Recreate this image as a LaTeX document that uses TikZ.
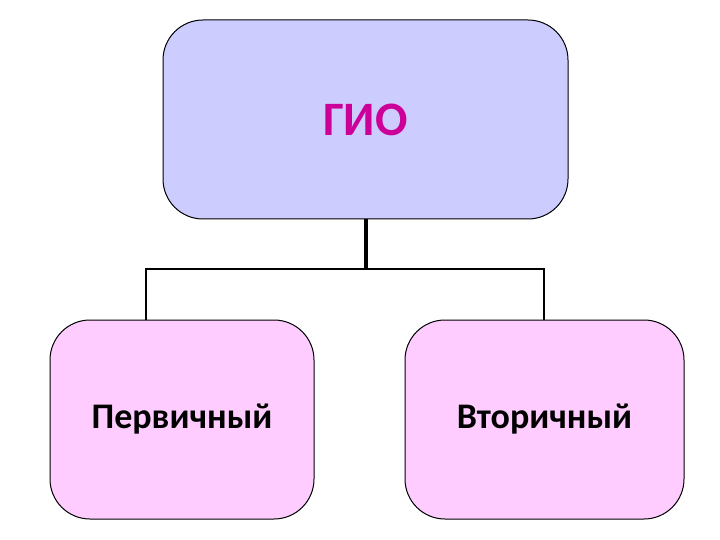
\documentclass[tikz,border=0pt]{standalone}
\usepackage{fontspec}
\setmainfont{Carlito}
\usetikzlibrary{calc}
\definecolor{topfill}{HTML}{CCCCFF}
\definecolor{botfill}{HTML}{FFCCFF}
\definecolor{titlecol}{HTML}{CC0099}
\tikzset{
  box/.style={draw=black, line width=1pt, rounded corners=40pt, inner sep=0pt},
  conn/.style={draw=black, line width=2pt},
}
\begin{document}
\begin{tikzpicture}[x=1pt,y=-1pt]
\useasboundingbox (0,0) rectangle (720,540);
\node[box, fill=topfill, minimum width=405pt, minimum height=199pt,
      font=\fontsize{48}{54}\selectfont\bfseries, text=titlecol] (top) at (365.5,119.5) {ГИО};
\node[box, fill=botfill, minimum width=264pt, minimum height=199pt,
      font=\fontsize{36}{42}\selectfont\bfseries] (left) at (182,419.5) {Первичный};
\node[box, fill=botfill, minimum width=279pt, minimum height=199pt,
      font=\fontsize{36}{42}\selectfont\bfseries] (right) at (544.5,419.5) {Вторичный};
\coordinate (j) at ($(top.south)+(0,49)$);
\coordinate (lt) at ($(left.north west)+(96,0)$);
\coordinate (rt) at ($(right.north west)+(139,0)$);
\draw[conn, line width=4pt] (top.south) -- (j);
\draw[conn] (j) -| (lt);
\draw[conn] (j) -| (rt);
\end{tikzpicture}
\end{document}
